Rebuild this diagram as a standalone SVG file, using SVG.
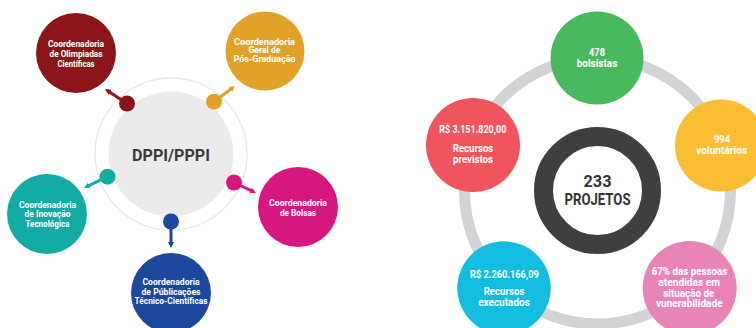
<svg xmlns="http://www.w3.org/2000/svg" width="756" height="328" viewBox="0 0 756 328">
<style>
.t{font-family:Roboto,"Liberation Sans",sans-serif;font-weight:700;fill:#fff;text-anchor:middle}
.s{font-size:8.4px}
.m{font-size:10.2px}
.c{font-family:Roboto,"Liberation Sans",sans-serif;font-weight:700;fill:#333;text-anchor:middle;font-size:17px}
</style>
<defs>
<marker id="ah1" viewBox="0 0 6 6" refX="3" refY="3" markerWidth="6" markerHeight="6" markerUnits="userSpaceOnUse" orient="auto"><path d="M0,0 L6,3 L0,6 z" fill="#8b1518"/></marker>
<marker id="ah2" viewBox="0 0 6 6" refX="3" refY="3" markerWidth="6" markerHeight="6" markerUnits="userSpaceOnUse" orient="auto"><path d="M0,0 L6,3 L0,6 z" fill="#e2a228"/></marker>
<marker id="ah3" viewBox="0 0 6 6" refX="3" refY="3" markerWidth="6" markerHeight="6" markerUnits="userSpaceOnUse" orient="auto"><path d="M0,0 L6,3 L0,6 z" fill="#13aca4"/></marker>
<marker id="ah4" viewBox="0 0 6 6" refX="3" refY="3" markerWidth="6" markerHeight="6" markerUnits="userSpaceOnUse" orient="auto"><path d="M0,0 L6,3 L0,6 z" fill="#d6177f"/></marker>
<marker id="ah5" viewBox="0 0 6 6" refX="3" refY="3" markerWidth="6" markerHeight="6" markerUnits="userSpaceOnUse" orient="auto"><path d="M0,0 L6,3 L0,6 z" fill="#1b479c"/></marker>
</defs>
<rect width="756" height="328" fill="#fff"/>

<!-- Left diagram -->
<g id="dppi">
<circle cx="171" cy="154" r="76" fill="none" stroke="#e8e8e8" stroke-width="1.5"/>
<circle cx="171" cy="154" r="62.5" fill="#ebebeb"/>
<text class="c" x="171" y="160.7" textLength="78" lengthAdjust="spacingAndGlyphs" style="font-size:16px;fill:#3a3a3a">DPPI/PPPI</text>
</g>

<g id="connectors">
<g stroke-width="3">
<line x1="127" y1="103.5" x2="107.5" y2="90.7" stroke="#8b1518" marker-end="url(#ah1)"/>
<line x1="214" y1="101.7" x2="232.6" y2="87.8" stroke="#e2a228" marker-end="url(#ah2)"/>
<line x1="107.5" y1="176.7" x2="86.7" y2="186.7" stroke="#13aca4" marker-end="url(#ah3)"/>
<line x1="234" y1="182.5" x2="253.3" y2="191.7" stroke="#d6177f" marker-end="url(#ah4)"/>
<line x1="171" y1="221.5" x2="171" y2="245" stroke="#1b479c" marker-end="url(#ah5)"/>
</g>
<circle cx="127" cy="103.5" r="8" fill="#8b1518"/>
<circle cx="214" cy="101.7" r="8" fill="#e2a228"/>
<circle cx="107.5" cy="176.7" r="8" fill="#13aca4"/>
<circle cx="234" cy="182.5" r="8" fill="#d6177f"/>
<circle cx="171" cy="221.5" r="8" fill="#1b479c"/>
</g>

<g id="olimpiadas">
<circle cx="76" cy="53" r="40" fill="#8b1518"/>
<text class="t s" x="76" y="47.3" textLength="56" lengthAdjust="spacingAndGlyphs">Coordenadoria</text>
<text class="t s" x="76" y="57.3" textLength="53" lengthAdjust="spacingAndGlyphs">de Olimpiadas</text>
<text class="t s" x="76" y="67.3" textLength="37" lengthAdjust="spacingAndGlyphs">Científicas</text>
</g>

<g id="pos-graduacao">
<circle cx="265" cy="51" r="39.5" fill="#e2a228"/>
<text class="t s" x="264.5" y="45" textLength="61" lengthAdjust="spacingAndGlyphs">Coordenadoria</text>
<text class="t s" x="264.5" y="53" textLength="32" lengthAdjust="spacingAndGlyphs">Geral de</text>
<text class="t s" x="264.5" y="61.5" textLength="62" lengthAdjust="spacingAndGlyphs">Pós-Graduação</text>
</g>

<g id="inovacao">
<circle cx="47" cy="214" r="40" fill="#13aca4"/>
<text class="t s" x="47.5" y="207.7" textLength="57" lengthAdjust="spacingAndGlyphs">Coordenadoria</text>
<text class="t s" x="47.5" y="217.3" textLength="46" lengthAdjust="spacingAndGlyphs">de Inovação</text>
<text class="t s" x="47.5" y="226.7" textLength="44" lengthAdjust="spacingAndGlyphs">Tecnológica</text>
</g>

<g id="bolsas">
<circle cx="298" cy="207" r="40" fill="#d6177f"/>
<text class="t s" x="298" y="206.3" textLength="58" lengthAdjust="spacingAndGlyphs">Coordenadoria</text>
<text class="t s" x="298" y="216" textLength="36" lengthAdjust="spacingAndGlyphs">de Bolsas</text>
</g>

<g id="publicacoes">
<circle cx="171" cy="293" r="40" fill="#1b479c"/>
<text class="t s" x="171" y="285" textLength="57" lengthAdjust="spacingAndGlyphs">Coordenadoria</text>
<text class="t s" x="171" y="294.7" textLength="59" lengthAdjust="spacingAndGlyphs">de Públicações</text>
<text class="t s" x="171" y="304.3" textLength="73" lengthAdjust="spacingAndGlyphs">Técnico-Científicas</text>
</g>

<!-- Right diagram -->
<g id="ring">
<circle cx="597.5" cy="191" r="133" fill="none" stroke="#d1d3d4" stroke-width="11"/>
</g>

<g id="projetos">
<circle cx="597.5" cy="190.5" r="54" fill="#fff" stroke="#3f3f3f" stroke-width="19"/>
<text class="c" x="597.5" y="187" textLength="28" lengthAdjust="spacingAndGlyphs">233</text>
<text class="c" x="597.5" y="205" textLength="66" lengthAdjust="spacingAndGlyphs">PROJETOS</text>
</g>

<g id="bolsistas">
<circle cx="597" cy="58" r="46.5" fill="#48b95f"/>
<text class="t m" x="597" y="56" textLength="16" lengthAdjust="spacingAndGlyphs">478</text>
<text class="t m" x="597" y="67" textLength="40.5" lengthAdjust="spacingAndGlyphs">bolsistas</text>
</g>

<g id="previstos">
<circle cx="473" cy="145" r="47" fill="#f0545c"/>
<text class="t m" x="472.8" y="133.3" textLength="67" lengthAdjust="spacingAndGlyphs">R$ 3.151.820,00</text>
<text class="t m" x="473" y="151.7" textLength="40.6" lengthAdjust="spacingAndGlyphs">Recursos</text>
<text class="t m" x="473" y="162.7" textLength="40" lengthAdjust="spacingAndGlyphs">previstos</text>
</g>

<g id="voluntarios">
<circle cx="721" cy="145.5" r="46" fill="#fbbd33"/>
<text class="t m" x="722" y="142.7" textLength="16" lengthAdjust="spacingAndGlyphs">994</text>
<text class="t m" x="721.7" y="154.3" textLength="51" lengthAdjust="spacingAndGlyphs">voluntários</text>
</g>

<g id="executados">
<circle cx="504" cy="288" r="46.7" fill="#12bddf"/>
<text class="t m" x="504.4" y="278.3" textLength="68.7" lengthAdjust="spacingAndGlyphs">R$ 2.260.166,09</text>
<text class="t m" x="504" y="295.3" textLength="40.7" lengthAdjust="spacingAndGlyphs">Recursos</text>
<text class="t m" x="504" y="305.7" textLength="51.7" lengthAdjust="spacingAndGlyphs">executados</text>
</g>

<g id="vulnerabilidade">
<circle cx="689.7" cy="288" r="47" fill="#e985b6"/>
<text class="t m" x="689.5" y="275.3" textLength="75.7" lengthAdjust="spacingAndGlyphs">67% das pessoas</text>
<text class="t m" x="689.2" y="286" textLength="61.7" lengthAdjust="spacingAndGlyphs">atendidas em</text>
<text class="t m" x="688.8" y="296.7" textLength="51" lengthAdjust="spacingAndGlyphs">situação de</text>
<text class="t m" x="689.3" y="306.7" textLength="66.7" lengthAdjust="spacingAndGlyphs">vunerabilidade</text>
</g>
</svg>
